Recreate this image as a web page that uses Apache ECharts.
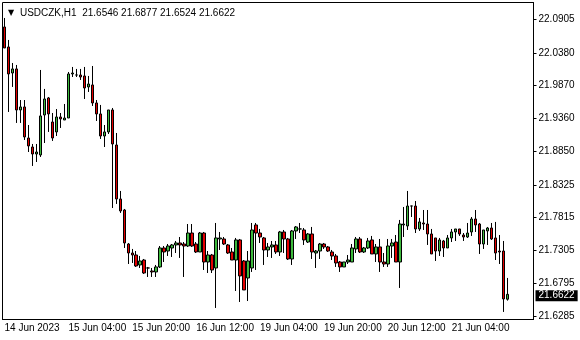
<!DOCTYPE html>
<html>
<head>
<meta charset="utf-8">
<script src="https://cdn.jsdelivr.net/npm/echarts@6/dist/echarts.min.js"></script>
<style>
  html, body { margin: 0; background: #fff; }
  #chart { width: 580px; height: 340px; }
</style>
</head>
<body>
<div id="chart"></div>
<script>
  const symbol = 'USDCZK,H1'

  // H1 trading sessions shown: [day, first hour, last hour]
  const sessions = [
    ['14 Jun', 12, 23], ['15 Jun', 0, 23], ['16 Jun', 0, 23],
    ['19 Jun', 0, 23], ['20 Jun', 0, 23], ['21 Jun', 0, 18],
  ]
  const xTickLabels = ['14 Jun 2023', '15 Jun 04:00', '15 Jun 20:00', '16 Jun 12:00',
    '19 Jun 04:00', '19 Jun 20:00', '20 Jun 12:00', '21 Jun 04:00']
  const yTickValues = [21.6285, 21.6795, 21.7305, 21.7815, 21.8325, 21.8850,
    21.9360, 21.9870, 22.0380, 22.0905]

  const opens = [
    22.0781, 22.0470, 22.0065, 22.0128, 21.9490, 21.9537, 21.9054, 21.8914, 21.8805, 21.8790,
    21.9412, 21.9677, 21.9303, 21.9148, 21.9381, 21.9334, 21.9365, 22.0050, 22.0034, 22.0034,
    22.0019, 21.9848, 21.9879, 21.9599, 21.9428, 21.9085, 21.9148, 21.9490, 21.8945, 21.8105,
    21.7934, 21.7405, 21.7265, 21.7234, 21.7079, 21.7156, 21.7032, 21.6985, 21.6970, 21.7048,
    21.7343, 21.7296, 21.7343, 21.7390, 21.7421, 21.7405, 21.7374, 21.7576, 21.7405, 21.7281,
    21.7576, 21.7125, 21.7234, 21.7032, 21.7483, 21.7483, 21.7390, 21.7281, 21.7156, 21.7468,
    21.7141, 21.6876, 21.7032, 21.7701, 21.7576, 21.7499, 21.7312, 21.7359, 21.7390, 21.7281,
    21.7592, 21.7483, 21.7172, 21.7608, 21.7639, 21.7623, 21.7436, 21.7561, 21.7265, 21.7296,
    21.7405, 21.7359, 21.7281, 21.7219, 21.7125, 21.7048, 21.7125, 21.7125, 21.7328, 21.7483,
    21.7281, 21.7343, 21.7468, 21.7250, 21.7359, 21.7125, 21.7094, 21.7374, 21.7436, 21.7125,
    21.7701, 21.7685, 21.7996, 21.7996, 21.7639, 21.7732, 21.7716, 21.7561, 21.7499, 21.7296,
    21.7452, 21.7343, 21.7499, 21.7592, 21.7639, 21.7545, 21.7514, 21.7592, 21.7794, 21.7716,
    21.7405, 21.7608, 21.7654, 21.7499, 21.7296, 21.7296, 21.6546,
  ]
  const closes = [
    22.0454, 22.0050, 22.0128, 21.9490, 21.9537, 21.9070, 21.8930, 21.8805, 21.8836, 21.9397,
    21.9661, 21.9428, 21.9054, 21.9381, 21.9350, 21.9365, 22.0050, 22.0065, 22.0034, 22.0003,
    21.9832, 21.9894, 21.9599, 21.9428, 21.9085, 21.9148, 21.9490, 21.8961, 21.8105, 21.7919,
    21.7421, 21.7265, 21.7234, 21.7063, 21.7141, 21.6954, 21.7032, 21.6970, 21.7048, 21.7343,
    21.7281, 21.7374, 21.7390, 21.7421, 21.7390, 21.7374, 21.7576, 21.7374, 21.7281, 21.7576,
    21.7125, 21.7234, 21.7001, 21.7499, 21.7499, 21.7405, 21.7265, 21.7156, 21.7468, 21.6908,
    21.6690, 21.7141, 21.7623, 21.7576, 21.7514, 21.7312, 21.7359, 21.7390, 21.7281, 21.7592,
    21.7483, 21.7172, 21.7608, 21.7670, 21.7639, 21.7468, 21.7561, 21.7281, 21.7296, 21.7405,
    21.7359, 21.7296, 21.7219, 21.7110, 21.7048, 21.7125, 21.7156, 21.7343, 21.7483, 21.7281,
    21.7343, 21.7452, 21.7250, 21.7359, 21.7125, 21.7094, 21.7374, 21.7421, 21.7125, 21.7716,
    21.7716, 21.7996, 21.7996, 21.7639, 21.7748, 21.7716, 21.7561, 21.7250, 21.7296, 21.7468,
    21.7343, 21.7499, 21.7592, 21.7639, 21.7561, 21.7514, 21.7576, 21.7794, 21.7701, 21.7405,
    21.7623, 21.7654, 21.7483, 21.7265, 21.7281, 21.6550, 21.6622,
  ]
  const lows = [
    22.0454, 21.9459, 21.9848, 21.9288, 21.9288, 21.9023, 21.8836, 21.8619, 21.8681, 21.8759,
    21.8976, 21.9148, 21.9008, 21.9085, 21.9210, 21.9334, 21.9365, 22.0003, 22.0003, 21.9957,
    21.9661, 21.9770, 21.9552, 21.9319, 21.9039, 21.8914, 21.9116, 21.7965, 21.8028, 21.7888,
    21.7343, 21.7094, 21.7110, 21.7048, 21.7032, 21.6939, 21.6892, 21.6892, 21.6892, 21.7032,
    21.7125, 21.7219, 21.7203, 21.7265, 21.7188, 21.6892, 21.7359, 21.7359, 21.7265, 21.7281,
    21.7001, 21.6954, 21.6954, 21.6410, 21.7312, 21.7390, 21.7250, 21.7156, 21.6674, 21.6503,
    21.6690, 21.6518, 21.6970, 21.7001, 21.7421, 21.7079, 21.7203, 21.7188, 21.7250, 21.7219,
    21.7265, 21.7156, 21.7079, 21.7483, 21.7576, 21.7390, 21.7421, 21.7172, 21.7032, 21.7172,
    21.7328, 21.7281, 21.7156, 21.7048, 21.6970, 21.7048, 21.7094, 21.7125, 21.7265, 21.7265,
    21.7265, 21.7328, 21.7250, 21.7125, 21.6970, 21.7048, 21.7048, 21.7188, 21.7125, 21.6721,
    21.7514, 21.7623, 21.7825, 21.7576, 21.7608, 21.7623, 21.7390, 21.7250, 21.7141, 21.7219,
    21.7203, 21.7343, 21.7436, 21.7452, 21.7530, 21.7452, 21.7499, 21.7530, 21.7592, 21.7250,
    21.7328, 21.7390, 21.7468, 21.7156, 21.7094, 21.6348, 21.6524,
  ]
  const highs = [
    22.0921, 22.0579, 22.0221, 22.0190, 21.9645, 21.9645, 21.9256, 21.8961, 21.8961, 22.0112,
    21.9817, 21.9692, 21.9443, 21.9505, 21.9443, 21.9583, 22.0081, 22.0159, 22.0128, 22.0128,
    22.0159, 22.0019, 22.0174, 21.9645, 21.9568, 21.9256, 21.9490, 21.9521, 21.9132, 21.8230,
    21.7950, 21.7421, 21.7328, 21.7296, 21.7219, 21.7172, 21.7048, 21.7032, 21.7079, 21.7374,
    21.7374, 21.7405, 21.7405, 21.7452, 21.7514, 21.7436, 21.7716, 21.7716, 21.7436, 21.7592,
    21.7592, 21.7296, 21.7250, 21.7732, 21.7592, 21.7514, 21.7405, 21.7343, 21.7499, 21.7483,
    21.7156, 21.7296, 21.7732, 21.7732, 21.7639, 21.7514, 21.7421, 21.7452, 21.7452, 21.7608,
    21.7623, 21.7499, 21.7623, 21.7685, 21.7732, 21.7654, 21.7576, 21.7670, 21.7312, 21.7421,
    21.7421, 21.7374, 21.7312, 21.7250, 21.7141, 21.7125, 21.7234, 21.7405, 21.7514, 21.7514,
    21.7359, 21.7499, 21.7530, 21.7405, 21.7483, 21.7265, 21.7483, 21.7483, 21.7545, 21.7779,
    21.7981, 21.8230, 21.7996, 21.8074, 21.7810, 21.7934, 21.7934, 21.7639, 21.7499, 21.7499,
    21.7468, 21.7545, 21.7639, 21.7639, 21.7639, 21.7576, 21.7732, 21.7825, 21.7934, 21.7732,
    21.7623, 21.7670, 21.7732, 21.7748, 21.7545, 21.7452, 21.6877,
  ]

  const chartShift = 6 // empty bars kept right of the last candle
  const tickEvery = 16

  const categories = []
  sessions.forEach(([day, from, to]) => {
    for (let h = from; h <= to; h++) categories.push(day + ' ' + String(h).padStart(2, '0') + ':00')
  })
  for (let i = 0; i < chartShift; i++) categories.push('')

  const candles = opens.map((o, i) => [o, closes[i], lows[i], highs[i]])
  const last = opens.length - 1
  const fmt = (v) => v.toFixed(4)
  const font = 'Tahoma, "Liberation Sans", Arial, sans-serif'
  const showTick = (i) => i % tickEvery === 0 && i <= last

  const chart = echarts.init(document.getElementById('chart'))
  chart.setOption({
    animation: false,
    backgroundColor: '#fff',
    textStyle: { fontFamily: font },
    title: {
      left: 3,
      top: 3,
      text: '{tri|▼} ' + symbol + '  ' + [opens[last], highs[last], lows[last], closes[last]].map(fmt).join(' '),
      textStyle: {
        fontSize: 10,
        fontWeight: 'normal',
        color: '#000',
        rich: { tri: { fontSize: 8, fontFamily: 'DejaVu Sans', color: '#000', padding: [0, 3, 0, 0] } },
      },
    },
    grid: {
      left: 2.5,
      top: 2.5,
      right: 46.5,
      bottom: 20.5,
      show: true,
      borderColor: '#000',
      borderWidth: 1,
    },
    xAxis: {
      type: 'category',
      data: categories,
      boundaryGap: true,
      axisLine: { lineStyle: { color: '#000' } },
      axisTick: {
        alignWithLabel: true,
        interval: showTick,
        length: 4,
        lineStyle: { color: '#000' },
      },
      axisLabel: {
        interval: showTick,
        align: 'left',
        margin: 4,
        fontSize: 10,
        color: '#000',
        formatter: (v, i) => xTickLabels[i / tickEvery],
      },
      splitLine: { show: false },
    },
    yAxis: {
      type: 'value',
      position: 'right',
      scale: true,
      min: 21.62305,
      max: 22.11617,
      axisLine: { show: true, lineStyle: { color: '#000' } },
      axisTick: {
        show: true,
        length: 3,
        customValues: yTickValues,
        lineStyle: { color: '#000' },
      },
      axisLabel: {
        customValues: yTickValues,
        margin: 5,
        fontSize: 10,
        color: '#000',
        formatter: fmt,
      },
      splitLine: { show: false },
    },
    series: [
      {
        type: 'candlestick',
        data: candles,
        barWidth: 3,
        clip: false,
        itemStyle: {
          color: '#3dba3d',
          color0: '#e30000',
          borderColor: '#000',
          borderColor0: '#000',
          borderWidth: 1,
        },
        markLine: {
          silent: true,
          symbol: 'none',
          lineStyle: { color: 'rgba(0,0,0,0)', width: 0 },
          data: [{ yAxis: closes[last] }],
          label: {
            show: true,
            position: 'end',
            distance: 2,
            formatter: () => fmt(closes[last]),
            color: '#fff',
            backgroundColor: '#000',
            fontSize: 10,
            fontFamily: font,
            padding: [1, 3, 0, 3],
          },
        },
      },
    ],
  })
</script>
</body>
</html>
